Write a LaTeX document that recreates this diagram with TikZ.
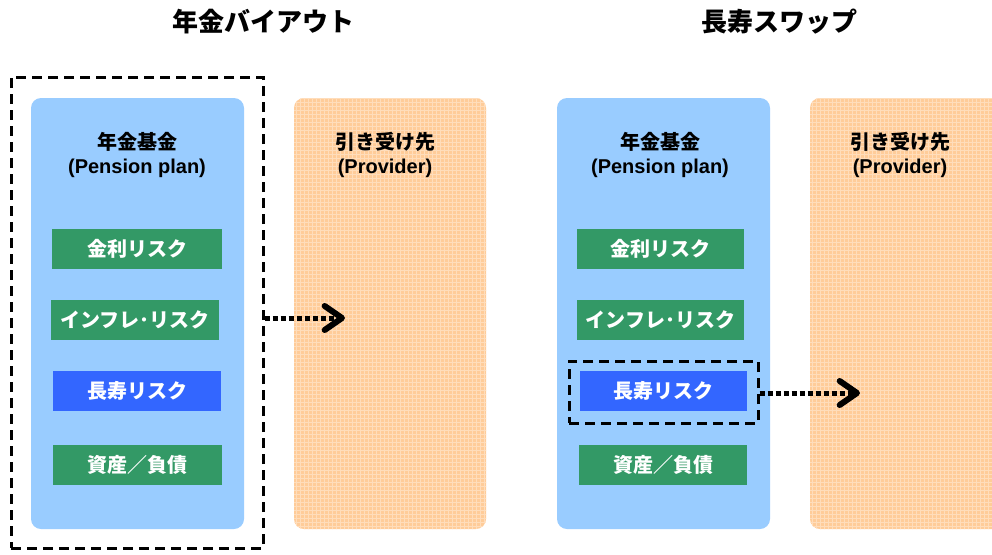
\documentclass[tikz,border=0pt]{standalone}
\usepackage{fontspec}
\setmainfont{Liberation Sans}
\newfontfamily\cjk{Noto Sans CJK JP}
\usetikzlibrary{arrows.meta,patterns}
\definecolor{planblue}{HTML}{99CCFF}
\definecolor{provorange}{HTML}{FFCC99}
\definecolor{provgrid}{HTML}{FFDDBB}
\definecolor{riskgreen}{HTML}{339966}
\definecolor{riskblue}{HTML}{3366FF}
\tikzset{
  planbox/.style={rectangle, rounded corners=7.5pt, fill=planblue, minimum width=213*0.75pt, minimum height=431*0.75pt, inner sep=0pt},
  provbox/.style={rectangle, rounded corners=7.5pt, fill=provorange, minimum width=192*0.75pt, minimum height=431*0.75pt, inner sep=0pt,
     postaction={pattern=grid, pattern color=provgrid}},
  riskbox/.style={rectangle, fill=riskgreen, text=white, minimum width=170*0.75pt, minimum height=40*0.75pt, inner sep=0pt, font=\cjk\bfseries\fontsize{15pt}{18pt}\selectfont},
  longbox/.style={riskbox, fill=riskblue, minimum width=168*0.75pt},
  headtxt/.style={font=\cjk\bfseries\fontsize{15pt}{18pt}\selectfont, inner sep=0pt},
  subtxt/.style={font=\bfseries\fontsize{15pt}{18pt}\selectfont, inner sep=0pt},
  titletxt/.style={font=\cjk\bfseries\fontsize{19.5pt}{23pt}\selectfont, inner sep=0pt},
  dashbox/.style={draw=black, line width=2.25pt, dash pattern=on 7.5pt off 4.5pt, inner sep=0pt},
  transfer/.style={draw=black, line width=3.75pt, dash pattern=on 3.75pt off 2.25pt, -{Straight Barb[length=13pt,width=18pt,line width=4.5pt,line cap=round,line join=round]}}
}
\begin{document}
\begin{tikzpicture}[x=0.75pt,y=-0.75pt]
\clip (0,0) rectangle (992,554);
\fill[white] (0,0) rectangle (992,554);
% titles
\node[titletxt] (t1) at (263,22) {年金バイアウト};
\node[titletxt] (t2) at (779,22) {長寿スワップ};
% left panel
\node[planbox] (planL) at (137.5,313.5) {};
\node[provbox] (provL) at (390,313.5) {};
\node[headtxt] (planLh) at (137,142) {年金基金};
\node[subtxt] (planLs) at (137,168) {(Pension plan)};
\node[headtxt] (provLh) at (385,142) {引き受け先};
\node[subtxt] (provLs) at (385,168) {(Provider)};
\node[riskbox] (rateL) at (137,249) {金利リスク};
\node[riskbox, minimum width=168*0.75pt] (inflL) at (135,320) {インフレ･リスク};
\node[longbox] (longL) at (137,391) {長寿リスク};
\node[riskbox, minimum width=169*0.75pt] (alL) at (137.5,465) {資産／負債};
\node[dashbox, minimum width=252*0.75pt, minimum height=471*0.75pt] (dashL) at (137,312.5) {};
\coordinate (tipL) at (345,318);
\draw[transfer] (dashL.east |- tipL) -- (tipL);
% right panel
\node[planbox] (planR) at (663.5,313.5) {};
\node[provbox] (provR) at (906,313.5) {};
\node[headtxt] (planRh) at (660,142) {年金基金};
\node[subtxt] (planRs) at (660,168) {(Pension plan)};
\node[headtxt] (provRh) at (900,142) {引き受け先};
\node[subtxt] (provRs) at (900,168) {(Provider)};
\node[riskbox, minimum width=167*0.75pt] (rateR) at (660.5,249) {金利リスク};
\node[riskbox, minimum width=167*0.75pt] (inflR) at (660.5,320) {インフレ･リスク};
\node[longbox, minimum width=167*0.75pt] (longR) at (663.5,391) {長寿リスク};
\node[riskbox, minimum width=168*0.75pt] (alR) at (663,465) {資産／負債};
\node[dashbox, minimum width=189*0.75pt, minimum height=62*0.75pt] (dashR) at (663.5,392) {};
\coordinate (tipR) at (860,393);
\draw[transfer] (dashR.east |- tipR) -- (tipR);
\end{tikzpicture}
\end{document}
